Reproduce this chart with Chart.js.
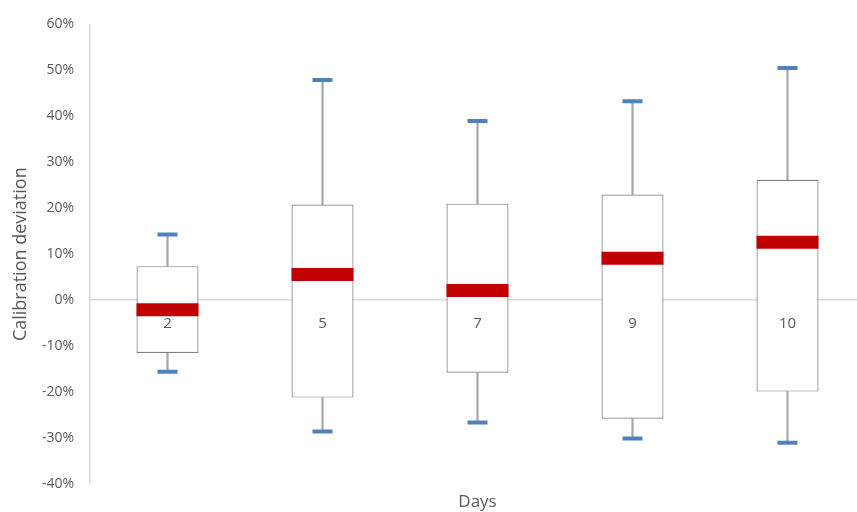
<!DOCTYPE html>
<html>
<head>
<meta charset="utf-8">
<script src="https://cdn.jsdelivr.net/npm/chart.js@4"></script>
<style>
  html, body { margin: 0; padding: 0; background: #fff; overflow: hidden; }
  #wrap { width: 870px; height: 512px; }
</style>
</head>
<body>
<div id="wrap"><canvas id="boxChart"></canvas></div>
<script>
// values, in percent
const days = ['2', '5', '7', '9', '10'];
const minVals = [-15.6, -28.6, -26.6, -30.1, -31.0];
const q1Vals = [-11.5, -21.2, -15.8, -25.8, -19.9];
const medianVals = [-2.1, 5.6, 2.1, 9.1, 12.6];
const q3Vals = [7.4, 20.8, 21.0, 23.0, 26.2];
const maxVals = [14.3, 47.9, 39.0, 43.3, 50.5];
const yTicks = { min: -40, max: 60, step: 10 };

const textColor = '#595959';
const fontFamily = "'Open Sans', 'Liberation Sans', sans-serif";

// category labels sit just under the zero line, over the boxes
const dayLabels = {
    id: 'dayLabels',
    afterDatasetsDraw(chart) {
        const { ctx, scales: { x, y } } = chart;
        const y0 = y.getPixelForValue(0);
        ctx.save();
        ctx.fillStyle = textColor;
        ctx.font = '15px ' + fontFamily;
        ctx.textAlign = 'center';
        ctx.textBaseline = 'middle';
        days.forEach((d, i) => ctx.fillText(d, x.getPixelForValue(i), y0 + 24));
        ctx.restore();
    }
};

function createBoxChart() {
    const ctx = document.getElementById('boxChart').getContext('2d');

    const boxes = days.map((d, i) => [q1Vals[i], q3Vals[i]]);
    const upperWhisker = days.map((d, i) => [q3Vals[i], maxVals[i]]);
    const lowerWhisker = days.map((d, i) => [minVals[i], q1Vals[i]]);

    window.boxChart = new Chart(ctx, {
        type: 'bar',
        data: {
            labels: days,
            datasets: [
                { type: 'bar', data: upperWhisker, backgroundColor: '#a6a6a6', barThickness: 1.5, grouped: false, order: 4 },
                { type: 'bar', data: lowerWhisker, backgroundColor: '#a6a6a6', barThickness: 1.5, grouped: false, order: 4 },
                { type: 'bar', data: boxes, backgroundColor: '#ffffff', borderColor: '#808080', borderWidth: 1.2,
                  borderSkipped: false, barPercentage: 0.4, categoryPercentage: 1, grouped: false, order: 3 },
                { type: 'line', data: maxVals, showLine: false, pointStyle: 'line', pointRadius: 10,
                  borderColor: '#4f81bd', borderWidth: 4, order: 2 },
                { type: 'line', data: minVals, showLine: false, pointStyle: 'line', pointRadius: 10,
                  borderColor: '#4f81bd', borderWidth: 4, order: 2 },
                { type: 'line', data: medianVals, showLine: false, pointStyle: 'line', pointRadius: 31,
                  borderColor: '#c00000', borderWidth: 13, order: 1 }
            ]
        },
        options: {
            responsive: true,
            maintainAspectRatio: false,
            animation: false,
            layout: { autoPadding: false, padding: { top: 14, right: 5, left: 0, bottom: 0 } },
            plugins: { legend: { display: false }, tooltip: { enabled: false } },
            scales: {
                x: {
                    offset: true,
                    grid: { display: false },
                    border: { display: false },
                    ticks: { display: false },
                    title: { display: true, text: 'Days', color: textColor, padding: { top: 6, bottom: 0 },
                             font: { family: fontFamily, size: 17 } },
                    afterFit: s => { s.height = 28; }
                },
                y: {
                    min: yTicks.min,
                    max: yTicks.max,
                    afterFit: s => { s.width = 90; },
                    grid: {
                        drawTicks: false,
                        color: c => (c.tick && c.tick.value === 0 ? '#d9d9d9' : 'rgba(0,0,0,0)'),
                        lineWidth: 1.5
                    },
                    border: { color: '#d9d9d9', width: 1.5 },
                    ticks: {
                        stepSize: yTicks.step,
                        padding: 16,
                        color: textColor,
                        font: { family: fontFamily, size: 14 },
                        callback: v => v + '%'
                    },
                    title: { display: true, text: 'Calibration deviation', color: textColor, padding: { top: 10, bottom: 0 },
                             font: { family: fontFamily, size: 18 } }
                }
            }
        },
        plugins: [dayLabels]
    });
}

window.addEventListener('DOMContentLoaded', createBoxChart);
</script>
</body>
</html>
